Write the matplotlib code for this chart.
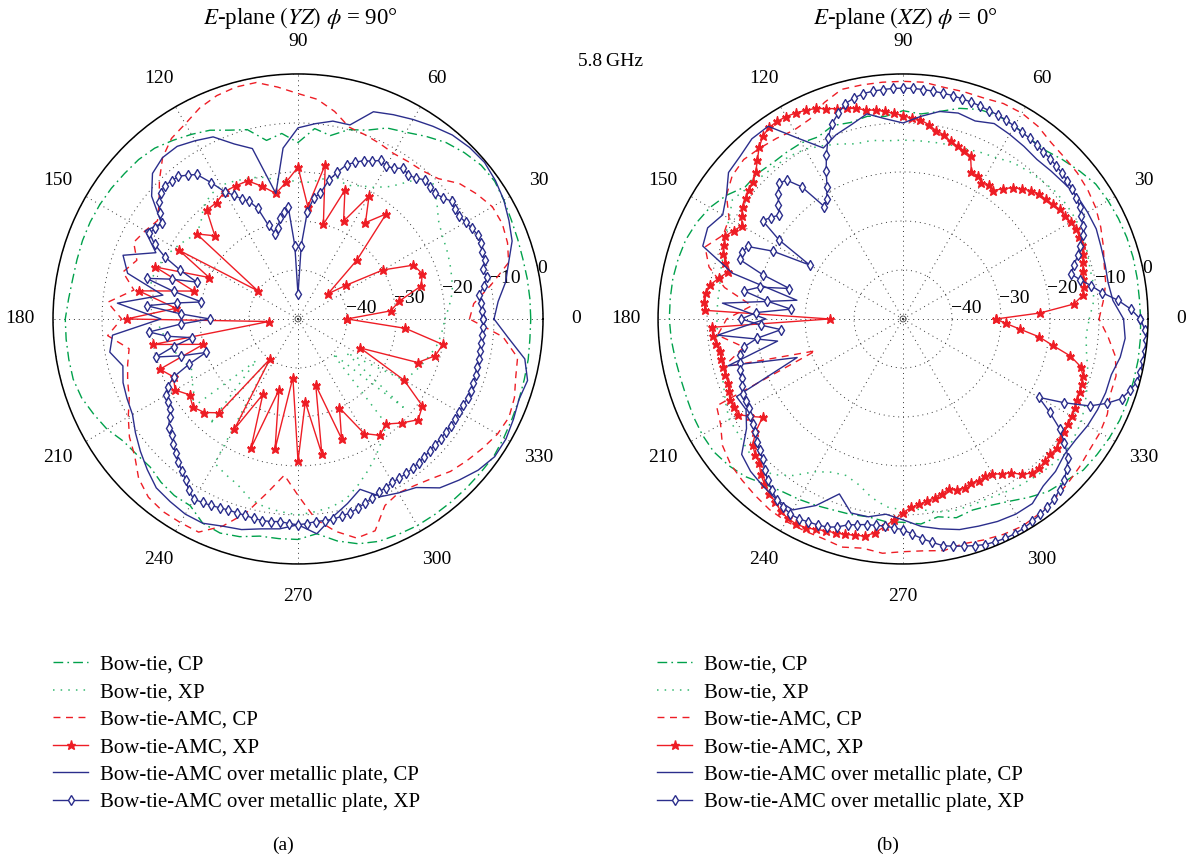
import numpy as np
import matplotlib.pyplot as plt

plt.rcParams['font.family'] = ['Liberation Serif', 'DejaVu Serif']
plt.rcParams['mathtext.fontset'] = 'stix'

# sample angles (deg): most curves every 5 deg, the busiest XP curves every 2.5 deg
angles_deg = np.arange(0, 360, 5)
angles_fine = np.arange(0, 360, 2.5)

# ---- (a) E-plane (YZ), phi = 90 deg : levels in dB ----
yz_bowtie_cp = [-2.5, -2.5, -2.5, -2.5, -2.3, -2.0, -1.5, -1.0, -1.2, -2.0, -3.0, -4.5,
                -6.0, -7.0, -9.0, -10.0, -12.0, -11.0, -14.0, -12.0, -13.0, -10.0, -9.0, -7.5,
                -6.5, -5.5, -4.5, -4.0, -3.8, -3.5, -3.3, -3.2, -3.2, -3.3, -3.3, -3.0,
                -2.5, -2.5, -2.5, -2.5, -3.0, -4.0, -5.0, -6.5, -7.0, -7.3, -6.5, -6.0,
                -6.0, -4.0, -3.5, -4.0, -5.0, -5.0, -5.0, -6.0, -4.0, -2.5, -1.7, -1.5,
                -1.3, -1.3, -1.3, -1.3, -1.3, -1.2, -1.5, -1.8, -2.0, -2.2, -2.3, -2.5]
yz_bowtie_xp = [-20, -19, -18, -17.5, -17, -16.5, -16, -15, -13, -11, -13, -17,
                -19, -20, -21, -20, -21, -22, -22, -21.5, -21, -20, -19.5, -19,
                -18.5, -19, -20, -22, -23, -22, -21, -20, -19.5, -19, -19.5, -20,
                -21, -22, -23, -24, -25, -26, -25, -24, -22, -38, -22, -40,
                -16, -15, -14, -12, -11, -10.5, -10, -10.5, -11, -12, -14, -16,
                -18, -20, -22, -40, -22, -38, -25, -24, -23, -22, -21, -20.5]
yz_amc_cp = [-15, -14, -10, -5.5, -4.5, -4, -4.2, -5.5, -7, -9.5, -10.5, -10.8,
             -11, -10.5, -10, -9.5, -7, -5, -4, -2.5, -1, -1, -1.5, -2.5,
             -4, -5, -7, -10, -13, -15, -14, -13, -15, -13, -16, -11,
             -14, -11, -15, -14, -13, -12, -10, -8, -6.5, -4, -2.5, -2,
             -2, -2, -5, -9, -14, -18, -14, -9, -6, -3.7, -4, -8,
             -9, -8.5, -7.5, -6, -5, -4, -3, -2.5, -3, -4, -4.5, -8]
yz_amc_xp = [-40, -31, -29, -24, -23, -24, -30, -38, -42, -33, -22, -26,
             -21, -28, -22, -30, -18, -27, -19, -22, -24, -22, -20, -20,
             -20, -21, -21, -26, -23, -40, -22, -30, -19, -28, -17, -25,
             -15, -44, -20, -30, -20, -22, -21, -23, -22, -23, -25, -40,
             -24, -33, -22, -35, -23, -38, -21, -33, -22, -36, -24, -30,
             -23, -21, -22, -20, -18, -19, -25, -36, -24, -21, -20, -28]
yz_plate_cp = [-10, -9, -7, -5.5, -3.5, -2.5, -1.5, -0.8, -0.3, -0.5, -1, -2,
               -3, -4, -5, -9, -9, -10, -11, -15, -24, -14, -12, -9,
               -8, -7, -7, -8, -11, -16, -14, -18, -12, -14, -22, -13,
               -22, -12, -11, -13, -12, -11.5, -11, -9.5, -8, -6.5, -5, -4.5,
               -4, -4, -5, -5.5, -6.5, -7, -8, -6, -9, -11, -13, -10,
               -9, -8, -5, -3.5, -2, -1, -1, -1.5, -2, -1.5, -3, -7]
# every 2.5 deg
yz_plate_xp = [-12.3, -12.5, -12.5, -12.8, -11.5, -10.5, -11, -10, -10, -9.5, -9.5, -10,
               -10.5, -11, -11, -10.5, -11.5, -12, -12, -11.5, -12.5, -13, -12.5, -13.5,
               -14, -13.5, -14.5, -15, -16, -17, -19, -21, -24, -25, -28, -35,
               -45, -35, -27, -28, -29, -31, -32, -30, -26, -24, -23, -21.5,
               -20, -17, -14, -13, -12, -11.8, -11.5, -12, -13, -14.5, -16, -15.5,
               -15, -17, -20, -24, -28, -23, -18, -24, -30, -25, -19, -26,
               -32, -26, -19.5, -23, -28, -24, -20, -25, -30, -26, -22, -20,
               -19, -18.5, -18, -17, -15.5, -15, -14, -13, -12, -11, -10, -8.5,
               -7.5, -7.8, -8, -8.3, -8.5, -8.5, -8.5, -8.3, -8.2, -8.3, -8.5, -8.2,
               -8, -8.2, -8.5, -8.5, -8.5, -8.8, -9, -9.5, -10, -10.5, -11, -11.2,
               -11.5, -11.5, -11.5, -11.6, -11.7, -11.8, -12, -12, -12, -12, -12, -12,
               -12, -12, -11.8, -11.8, -12, -12, -12.2, -12.2, -12.3, -12.3, -12.3, -12.3]

# ---- (b) E-plane (XZ), phi = 0 deg ----
xz_bowtie_cp = [-1.5, -1.6, -1.5, -1.4, -1.4, -1.5, -1.7, -2, -3, -4, -5, -5,
                -4.5, -4.2, -4.5, -5.5, -7, -8, -7.5, -8.5, -8, -8.5, -8, -9,
                -8.5, -8.5, -8.5, -8, -8, -6, -4.5, -3.5, -2.8, -2.5, -2.3, -2.3,
                -2.3, -2.5, -2.8, -3, -3, -2.8, -2.7, -2.8, -3.5, -4.5, -6, -7,
                -7.5, -8, -8.5, -8.7, -9, -8.5, -8.5, -8, -9, -8, -8.5, -8,
                -7, -5.5, -4, -3.2, -2, -1.7, -1.4, -1.2, -1.2, -1.3, -1.3, -1.4]
xz_bowtie_xp = [-12, -11, -10.5, -10.5, -10, -9.5, -9.3, -9.3, -9.5, -10, -10.5, -11,
                -12, -12.5, -13, -13.2, -13.4, -13.5, -13.5, -13.5, -13, -13, -12, -11,
                -10, -9.5, -9.3, -9, -8.5, -7.5, -9, -10, -11, -11.5, -12, -12,
                -12, -12, -12, -11.5, -11, -10, -9, -9, -8.5, -8, -8.5, -11,
                -14, -15.5, -16, -15, -13, -11.5, -11, -11, -10, -9.5, -9.5, -9.5,
                -9, -8.5, -8, -7.5, -7, -7.5, -8, -9, -10, -11, -12, -12.5]
xz_amc_cp = [-10, -9, -8, -7.5, -6.5, -5.5, -4.6, -4, -3.6, -3.4, -3, -2,
             -1.5, -1.5, -2, -2, -2, -1.5, -1.5, -1.5, -1.5, -1.5, -3, -5,
             -5.5, -5, -4.5, -4, -4.5, -6, -9, -9.5, -7, -9, -13, -19,
             -14, -12, -17, -12, -31, -8, -7, -5, -4, -3.5, -3, -2.5,
             -2.3, -2.3, -2.3, -1.8, -2.5, -2, -2.5, -2.5, -2, -2.5, -2, -1.5,
             -1.2, -1.5, -2, -2.5, -3, -3.5, -3.6, -4, -5, -5, -6, -8]
# every 2.5 deg
xz_amc_xp = [-31, -22, -15, -13, -12.5, -12.3, -12, -11.5, -11, -10.5, -10.3, -10.2,
             -10.5, -10.8, -11, -11.5, -12, -12.3, -13, -14, -15, -16.5, -18, -17.5,
             -18, -17, -17, -14, -13.5, -13, -12.5, -11.5, -11, -10, -9.2, -9,
             -8.5, -8, -7.5, -7, -6.7, -6, -5.5, -5, -4.3, -3.5, -3, -2.6,
             -2.3, -2.2, -2.3, -3, -4.3, -6, -7.5, -8.5, -9, -9.5, -10, -11,
             -12, -11, -10, -10.5, -11, -12, -13, -11.5, -10, -9.5, -9.3, -9.5,
             -35, -11, -11, -11.5, -12, -12, -12, -12, -12, -11.5, -11, -11,
             -11, -13, -15, -12, -10, -9, -8.5, -7, -6, -5, -4.5, -3.5,
             -3, -2.8, -3, -3.5, -4, -4.2, -4.5, -4.8, -5, -6, -7.5, -9,
             -10.5, -11.5, -12, -12.5, -13, -13.5, -14, -13.5, -13.3, -13.8, -13.5, -13.8,
             -13.5, -12.5, -11.7, -10, -9, -8.8, -9, -9.2, -9, -9.5, -9.8, -10,
             -10.3, -10.5, -10.8, -11, -11.2, -11.5, -12.5, -15, -19, -22, -26, -29]
xz_plate_cp = [-5, -7, -7.5, -7.3, -7, -6.5, -6.5, -6.5, -7, -7.3, -7.5, -7,
               -6.5, -6, -7, -6.5, -7, -8.5, -10, -9, -7.5, -9, -10, -11.5,
               -7.5, -2, -2, -3, -3.5, -6, -7.5, -6, -6.5, -14, -28, -13,
               -22, -12, -24, -13, -27, -12.5, -13, -11, -7, -6, -5.5, -5,
               -5, -8, -12, -9, -9, -10, -9, -7.5, -6.5, -5.5, -5, -4.4,
               -4, -4, -5.5, -6, -7, -7, -6.5, -6.2, -6, -6, -5, -4.5]
# every 2.5 deg
xz_plate_xp = [-1.6, -3.5, -6, -9, -11, -13, -14.5, -13.5, -12, -11, -9.5, -8.7,
               -8, -7.3, -6.8, -6.5, -6.2, -6, -5.8, -5.6, -5.5, -5.2, -5, -4.8,
               -4.6, -4.3, -4.1, -4, -3.8, -3.6, -3.5, -3.3, -3.2, -3.1, -3, -2.9,
               -2.9, -2.9, -3, -3.1, -3.3, -3.8, -4.5, -6, -7.6, -10, -13, -16,
               -19, -21, -22, -16, -13, -12.5, -14, -15.5, -17, -16, -15, -20,
               -28, -20, -15, -14.5, -14.5, -20, -26, -20, -17, -22, -27, -20,
               -17, -21, -25, -20, -17, -16, -15.5, -15.2, -15, -14.5, -14, -13.8,
               -13.7, -13, -12.5, -12, -11, -10.3, -9.5, -8.2, -7, -6, -5, -4.5,
               -4, -4, -4.3, -4.5, -4.8, -5.5, -6.5, -7, -7.4, -7.5, -7.6, -7.3,
               -7, -6, -5, -4, -3, -2.5, -2, -1.5, -1, -0.8, -0.6, -0.6,
               -0.7, -1, -1.3, -1.6, -2, -2.7, -3.5, -4.7, -6, -8.5, -11, -14.5,
               -18, -13, -8, -5, -2.5, -1.5, -0.5, -0.4, -0.3, -0.25, -0.2, -0.6]

labels = ["Bow-tie, CP", "Bow-tie, XP", "Bow-tie-AMC, CP", "Bow-tie-AMC, XP",
          "Bow-tie-AMC over metallic plate, CP", "Bow-tie-AMC over metallic plate, XP"]

green = "#00a14b"
green2 = "#35b870"
red = "#ee1d25"
navy = "#2b2e8c"
styles = [
    dict(color=green, lw=1.0, dashes=(7, 3, 1.2, 3)),
    dict(color=green2, lw=1.1, dashes=(1, 4)),
    dict(color=red, lw=1.0, dashes=(5, 4)),
    dict(color=red, lw=1.0, marker="*", ms=6.5, mec=red, mfc=red),
    dict(color=navy, lw=1.0),
    dict(color=navy, lw=1.0, marker="d", ms=5.5, mec=navy, mfc="white", mew=1.0),
]


def closed(a, v):
    a = np.deg2rad(np.append(a, 360))
    v = np.asarray(v, dtype=float)
    return a, np.append(v, v[0])


def draw(ax, series):
    lines = []
    for (a, vals), st in zip(series, styles):
        ln, = ax.plot(*closed(a, vals), **st)
        lines.append(ln)
    ax.set_ylim(-50, 0)
    ax.set_rgrids([-40, -30, -20, -10, 0], labels=["\u221240", "\u221230", "\u221220", "\u221210", "0"],
                  angle=12, fontsize=14, ha="left", va="center")
    ax.set_thetagrids(range(0, 360, 30), labels=[str(a) for a in range(0, 360, 30)], fontsize=14)
    ax.tick_params(axis="x", pad=13)
    ax.grid(True, color="#333333", lw=0.7, dashes=(1, 4))
    ax.spines["polar"].set_linewidth(1.1)
    # small ring at the centre of the chart
    ax.plot(np.linspace(0, 2 * np.pi, 40), np.full(40, -49.4), color="#555555", lw=0.7)
    return lines


fig = plt.figure(figsize=(11.88, 8.55), dpi=100)
ax1 = fig.add_axes([0.0446, 0.3404, 0.4125, 0.5731], projection="polar")
ax2 = fig.add_axes([0.5539, 0.3404, 0.4125, 0.5731], projection="polar")

h1 = draw(ax1, [(angles_deg, yz_bowtie_cp), (angles_deg, yz_bowtie_xp), (angles_deg, yz_amc_cp),
                (angles_deg, yz_amc_xp), (angles_deg, yz_plate_cp), (angles_fine, yz_plate_xp)])
h2 = draw(ax2, [(angles_deg, xz_bowtie_cp), (angles_deg, xz_bowtie_xp), (angles_deg, xz_amc_cp),
                (angles_fine, xz_amc_xp), (angles_deg, xz_plate_cp), (angles_fine, xz_plate_xp)])

fig.text(300 / 1188, 1 - 18 / 855, r"$E$-plane $(YZ)$ $\phi$ = 90°", fontsize=16.5, ha="center", va="center")
fig.text(905 / 1188, 1 - 18 / 855, r"$E$-plane $(XZ)$ $\phi$ = 0°", fontsize=16.5, ha="center", va="center")
fig.text(610 / 1188, 1 - 62 / 855, "5.8\u2009GHz", fontsize=14, ha="center", va="center",
         family=["Liberation Serif", "DejaVu Serif"])

for hs, x in [(h1, 53 / 1188), (h2, 657 / 1188)]:
    fig.legend(hs, labels, loc="upper left", bbox_to_anchor=(x, 1 - 655 / 855), frameon=False,
               fontsize=15, handlelength=1.7, handletextpad=0.58, labelspacing=0.38,
               borderpad=0, borderaxespad=0, numpoints=1)

fig.text(283 / 1188, 1 - 845 / 855, "(a)", fontsize=14, ha="center", va="center")
fig.text(888 / 1188, 1 - 845 / 855, "(b)", fontsize=14, ha="center", va="center")

fig.savefig("out.png", dpi=100)
